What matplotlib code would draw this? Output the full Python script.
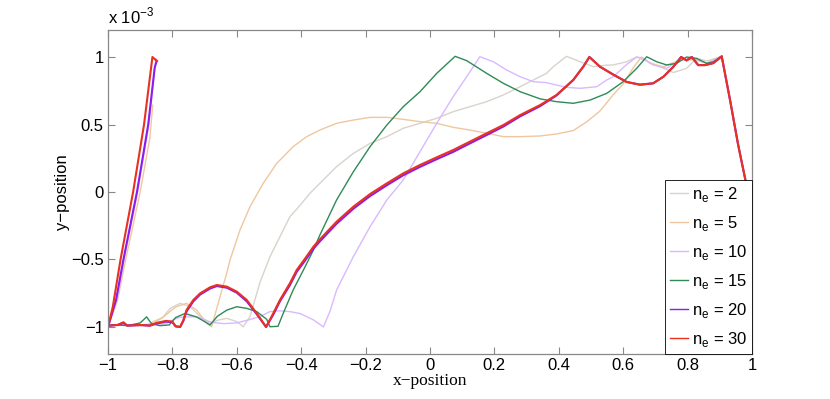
import matplotlib
matplotlib.use("Agg")
import matplotlib.pyplot as plt
import numpy as np

# ---- values (y in units of 1e-3) ------------------------------------------
# left steep branches (start at x=-1)
RED_L_X = [-1.0, -0.985, -0.961, -0.922, -0.888, -0.862, -0.848]
RED_L_Y = [-1.0, -0.85, -0.5, 0.0, 0.5, 1.0, 0.97]
PUR_L_X = [-1.0, -0.975, -0.952, -0.91, -0.875, -0.855, -0.849]
PUR_L_Y = [-1.0, -0.80, -0.5, 0.0, 0.5, 0.92, 0.97]
LAV_L_X = [-1.0, -0.97, -0.95, -0.908, -0.873, -0.851, -0.846]
LAV_L_Y = [-1.0, -0.78, -0.5, 0.0, 0.5, 0.99, 0.97]
TAN_L_X = [-1.0, -0.97, -0.945, -0.90, -0.87, -0.861]
TAN_L_Y = [-1.0, -0.8, -0.5, 0.0, 0.4, 0.644]

# main branches
GRAY_X = [-1.0, -0.95, -0.90, -0.86, -0.83, -0.807, -0.776, -0.745, -0.714,
          -0.683, -0.66, -0.631, -0.60, -0.58, -0.559, -0.528, -0.497, -0.466,
          -0.435, -0.404, -0.373, -0.342, -0.29, -0.238, -0.186, -0.134,
          -0.083, -0.031, 0.021, 0.072, 0.124, 0.176, 0.228, 0.28, 0.331,
          0.362, 0.383, 0.424, 0.466, 0.507, 0.549, 0.569, 0.611, 0.642,
          0.673, 0.714, 0.756, 0.797, 0.828, 0.86, 0.906]
GRAY_Y = [-0.99, -0.985, -0.985, -0.975, -0.93, -0.862, -0.825, -0.849,
          -0.923, -0.973, -0.95, -0.936, -0.96, -0.998, -0.923, -0.67, -0.479,
          -0.331, -0.183, -0.10, -0.01, 0.064, 0.188, 0.286, 0.36, 0.41,
          0.472, 0.509, 0.546, 0.595, 0.632, 0.669, 0.719, 0.78, 0.842,
          0.879, 0.928, 1.005, 0.965, 0.928, 0.94, 0.941, 0.965, 1.0,
          0.97, 0.928, 0.885, 0.916, 0.99, 0.97, 1.005]

TAN_X = [-1.0, -0.95, -0.90, -0.875, -0.859, -0.83, -0.80, -0.787, -0.756,
         -0.725, -0.693, -0.678, -0.652, -0.631, -0.621, -0.59, -0.559,
         -0.518, -0.476, -0.425, -0.383, -0.342, -0.29, -0.238, -0.186,
         -0.134, -0.083, -0.031, 0.021, 0.072, 0.124, 0.176, 0.228, 0.28,
         0.342, 0.393, 0.445, 0.487, 0.528, 0.569, 0.60, 0.631, 0.657, 0.683,
         0.725, 0.776, 0.82, 0.86, 0.906]
TAN_Y = [-0.99, -0.985, -0.99, -0.985, -0.96, -0.93, -0.87, -0.849, -0.825,
         -0.874, -0.973, -0.998, -0.775, -0.60, -0.504, -0.281, -0.109,
         0.064, 0.212, 0.336, 0.41, 0.459, 0.509, 0.533, 0.553, 0.553,
         0.538, 0.521, 0.509, 0.479, 0.459, 0.435, 0.41, 0.41, 0.415, 0.43,
         0.455, 0.52, 0.60, 0.72, 0.80, 0.92, 1.0, 0.953, 0.928, 0.978,
         0.98, 0.955, 1.005]

LAV_X = [-1.0, -0.95, -0.90, -0.85, -0.82, -0.80, -0.78, -0.76, -0.725,
         -0.70, -0.68, -0.64, -0.60, -0.56, -0.528, -0.497, -0.466, -0.435,
         -0.404, -0.383, -0.36, -0.331, -0.31, -0.29, -0.238, -0.186, -0.134,
         -0.083, -0.031, 0.021, 0.072, 0.124, 0.155, 0.197, 0.238, 0.28,
         0.321, 0.362, 0.424, 0.466, 0.518, 0.549, 0.569, 0.611, 0.642,
         0.663, 0.693, 0.735, 0.776, 0.818, 0.859, 0.906]
LAV_Y = [-0.99, -0.985, -0.99, -0.98, -0.975, -0.95, -0.93, -0.925, -0.925,
         -0.945, -0.965, -0.975, -0.97, -0.945, -0.923, -0.886, -0.88,
         -0.886, -0.90, -0.923, -0.95, -1.0, -0.88, -0.726, -0.479, -0.257,
         -0.059, 0.089, 0.299, 0.509, 0.706, 0.89, 1.002, 0.965, 0.904,
         0.854, 0.817, 0.81, 0.775, 0.768, 0.78, 0.83, 0.854, 0.945, 1.0,
         0.99, 0.941, 0.916, 0.978, 0.99, 0.953, 1.005]

GREEN_X = [-1.0, -0.97, -0.94, -0.90, -0.88, -0.865, -0.84, -0.81, -0.79,
           -0.761, -0.74, -0.725, -0.70, -0.683, -0.66, -0.631, -0.60,
           -0.569, -0.538, -0.507, -0.497, -0.472, -0.456, -0.425, -0.393,
           -0.362, -0.342, -0.29, -0.238, -0.186, -0.134, -0.083, -0.031,
           0.021, 0.078, 0.114, 0.176, 0.228, 0.28, 0.342, 0.393, 0.445,
           0.497, 0.549, 0.60, 0.642, 0.673, 0.704, 0.735, 0.766, 0.797,
           0.828, 0.859, 0.88, 0.906]
GREEN_Y = [-0.99, -0.985, -0.99, -0.97, -0.925, -0.975, -0.99, -0.985,
           -0.93, -0.90, -0.915, -0.925, -0.96, -0.985, -0.92, -0.875, -0.85,
           -0.862, -0.886, -0.943, -0.998, -0.995, -0.90, -0.726, -0.578,
           -0.43, -0.319, -0.059, 0.15, 0.336, 0.496, 0.632, 0.743, 0.879,
           1.005, 0.973, 0.879, 0.805, 0.743, 0.69, 0.669, 0.657, 0.681,
           0.731, 0.817, 0.916, 1.002, 0.965, 0.941, 0.953, 1.0, 0.99, 0.953,
           0.965, 1.005]

RED_X = [-1.0, -0.97, -0.952, -0.94, -0.90, -0.87, -0.85, -0.82, -0.80,
         -0.79, -0.776, -0.766, -0.756, -0.735, -0.714, -0.683, -0.662,
         -0.631, -0.60, -0.569, -0.538, -0.509, -0.487, -0.466, -0.435,
         -0.414, -0.39, -0.362, -0.342, -0.29, -0.238, -0.186, -0.134,
         -0.083, -0.031, 0.021, 0.072, 0.124, 0.176, 0.228, 0.28, 0.342,
         0.393, 0.445, 0.476, 0.495, 0.528, 0.569, 0.611, 0.652, 0.693,
         0.725, 0.756, 0.78, 0.797, 0.813, 0.833, 0.854, 0.88, 0.906, 0.932,
         0.957, 0.983, 1.0]
RED_Y = [-0.99, -0.985, -0.965, -0.99, -0.985, -0.99, -0.97, -0.955, -0.96,
         -0.995, -1.0, -0.95, -0.874, -0.80, -0.751, -0.706, -0.689, -0.701,
         -0.738, -0.80, -0.899, -1.0, -0.90, -0.80, -0.676, -0.578, -0.50,
         -0.405, -0.351, -0.22, -0.109, -0.015, 0.064, 0.138, 0.20, 0.257,
         0.311, 0.373, 0.435, 0.496, 0.57, 0.644, 0.719, 0.83, 0.928, 1.0,
         0.928, 0.87, 0.815, 0.795, 0.805, 0.854, 0.928, 1.0, 0.975, 1.0,
         0.94, 0.94, 0.955, 1.005, 0.68, 0.35, 0.05, 0.0]
# n_e = 20 runs just under n_e = 30 on the same abscissae
PUR_Y = [-0.99, -0.985, -0.97, -0.99, -0.985, -0.99, -0.975, -0.96, -0.965,
         -0.995, -1.0, -0.955, -0.885, -0.81, -0.76, -0.715, -0.697, -0.709,
         -0.746, -0.81, -0.905, -1.0, -0.91, -0.81, -0.69, -0.592, -0.515,
         -0.42, -0.366, -0.235, -0.124, -0.03, 0.05, 0.124, 0.186, 0.243,
         0.297, 0.36, 0.422, 0.485, 0.56, 0.636, 0.715, 0.83, 0.928, 1.0,
         0.928, 0.87, 0.815, 0.795, 0.805, 0.854, 0.928, 1.0, 0.975, 1.0,
         0.94, 0.94, 0.955, 1.005, 0.68, 0.35, 0.05, 0.0]

LABELS = [r"n$_\mathregular{e}$ = 2", r"n$_\mathregular{e}$ = 5",
          r"n$_\mathregular{e}$ = 10", r"n$_\mathregular{e}$ = 15",
          r"n$_\mathregular{e}$ = 20", r"n$_\mathregular{e}$ = 30"]
COLORS = ["#d9d3cb", "#efc79f", "#d9b9ff", "#2e8b57", "#8a1cf0", "#e8321e"]

plt.rcParams["font.family"] = ["Liberation Sans", "DejaVu Sans"]
plt.rcParams["mathtext.fontset"] = "custom"
plt.rcParams["mathtext.rm"] = "Liberation Sans"

fig = plt.figure(figsize=(8.3, 3.99), dpi=100)
ax = fig.add_axes([0.1301, 0.1128, 0.7759, 0.812])

series = [
    (GRAY_X, GRAY_Y, None, None, 1.0),
    (TAN_X, TAN_Y, TAN_L_X, TAN_L_Y, 1.0),
    (LAV_X, LAV_Y, LAV_L_X, LAV_L_Y, 1.0),
    (GREEN_X, GREEN_Y, None, None, 1.0),
    (RED_X, PUR_Y, PUR_L_X, PUR_L_Y, 1.5),
    (RED_X, RED_Y, RED_L_X, RED_L_Y, 1.5),
]
for (x, y, lx, ly, lw), lab, c in zip(series, LABELS, COLORS):
    ax.plot(x, y, color=c, lw=lw, label=lab)
    if lx is not None:
        ax.plot(lx, ly, color=c, lw=lw)

ax.set_xlim(-1, 1)
ax.set_ylim(-1.2, 1.2)
ax.set_xticks(np.arange(-1, 1.01, 0.2))
ax.set_xticklabels(["\u22121", "\u22120.8", "\u22120.6", "\u22120.4", "\u22120.2",
                    "0", "0.2", "0.4", "0.6", "0.8", "1"])
ax.set_yticks([-1, -0.5, 0, 0.5, 1])
ax.set_yticklabels(["\u22121", "\u22120.5", "0", "0.5", "1"])
ax.tick_params(direction="in", top=True, right=True, length=5, width=0.8,
               color="#888888", labelsize=12, pad=3)
for s in ax.spines.values():
    s.set_color("#888888")
    s.set_linewidth(0.9)

ax.set_xlabel("x\u2212position", family=["Liberation Serif", "DejaVu Serif"],
              fontsize=12.5, labelpad=0)
ax.set_ylabel("y\u2212position", fontsize=12, labelpad=1)
ax.text(0.0, 1.01, r"x 10$^{\mathregular{-3}}$", transform=ax.transAxes,
        fontsize=12, ha="left", va="bottom")

leg = ax.legend(loc="lower right", borderaxespad=0, fontsize=12,
                handlelength=1.1, handletextpad=0.2, labelspacing=0.6,
                fancybox=False, framealpha=1, borderpad=0.3)
leg.get_frame().set_edgecolor("black")
leg.get_frame().set_linewidth(0.6)
for h in leg.get_lines():
    h.set_linewidth(1.0)

fig.savefig("out.png", dpi=100)
